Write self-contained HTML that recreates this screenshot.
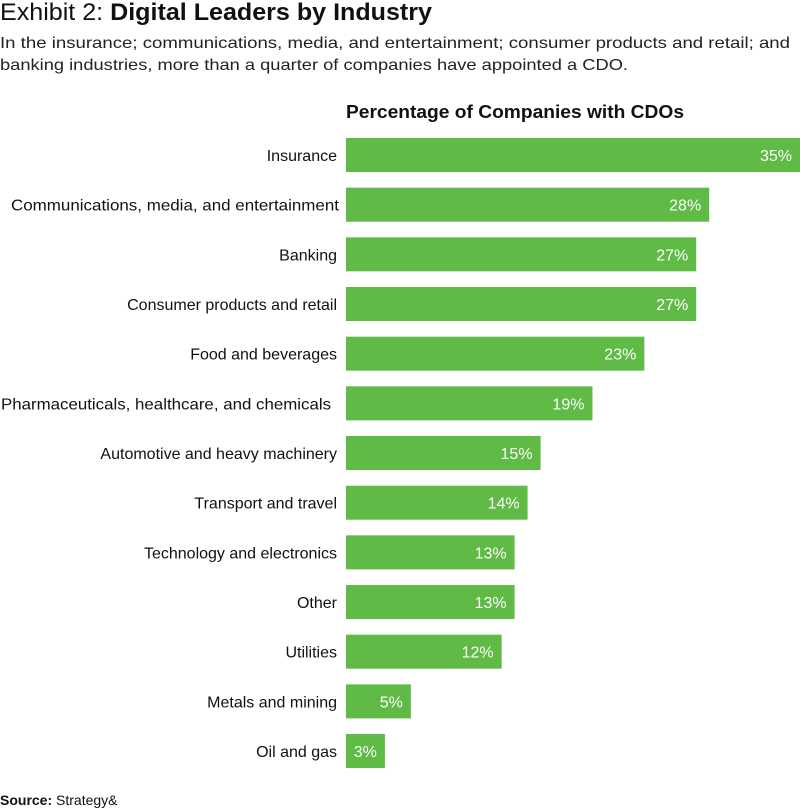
<!DOCTYPE html>
<html><head><meta charset="utf-8"><style>
html,body{margin:0;padding:0;background:#fff;}
svg{display:block;font-family:"Liberation Sans",sans-serif;}
</style></head><body>
<svg width="800" height="808" viewBox="0 0 800 808">
<text x="0" y="20" font-size="24" fill="#111" textLength="432" lengthAdjust="spacingAndGlyphs">Exhibit 2: <tspan font-weight="bold">Digital Leaders by Industry</tspan></text>
<text x="0" y="48" font-size="16" fill="#222" textLength="790" lengthAdjust="spacingAndGlyphs">In the insurance; communications, media, and entertainment; consumer products and retail; and</text>
<text x="0" y="70" font-size="16" fill="#222" textLength="628" lengthAdjust="spacingAndGlyphs">banking industries, more than a quarter of companies have appointed a CDO.</text>
<text x="346" y="118" font-size="18" font-weight="bold" fill="#111" textLength="338" lengthAdjust="spacingAndGlyphs">Percentage of Companies with CDOs</text>
<g id="bars"></g>
<text x="0" y="805" font-size="14" fill="#111"><tspan font-weight="bold">Source:</tspan> Strategy&amp;</text>
</svg>
<script>
const categories = ["Insurance","Communications, media, and entertainment","Banking","Consumer products and retail","Food and beverages","Pharmaceuticals, healthcare, and chemicals","Automotive and heavy machinery","Transport and travel","Technology and electronics","Other","Utilities","Metals and mining","Oil and gas"];
const values = [35,28,27,27,23,19,15,14,13,13,12,5,3];
const valueLabels = ["35%","28%","27%","27%","23%","19%","15%","14%","13%","13%","12%","5%","3%"];
const NS="http://www.w3.org/2000/svg";
const x0=346, pxPer=454/35;
const xScale=v=>v*pxPer;
const yScale=i=>155+i*49.67;
const g=document.getElementById('bars');
categories.forEach((c,i)=>{
  const cy=yScale(i), w=xScale(values[i]);
  const r=document.createElementNS(NS,'rect');
  r.setAttribute('x',x0);r.setAttribute('y',cy-17);r.setAttribute('width',w);r.setAttribute('height',34);r.setAttribute('fill','#5fba46');
  
  
  g.appendChild(r);
  const t=document.createElementNS(NS,'text');
  t.setAttribute('x',337);t.setAttribute('y',cy+6);t.setAttribute('text-anchor','end');t.setAttribute('font-size','16');t.setAttribute('fill','#111');
  if(c.indexOf('Pharma')===0){t.setAttribute('textLength','330');t.setAttribute('lengthAdjust','spacingAndGlyphs');t.setAttribute('x',331);}
  else if(c.indexOf('Communications')===0){t.setAttribute('textLength','328');t.setAttribute('lengthAdjust','spacingAndGlyphs');t.setAttribute('x',339);}
  t.textContent=c;
  
  
  g.appendChild(t);
  const v=document.createElementNS(NS,'text');
  v.setAttribute('x',x0+w-8);v.setAttribute('y',cy+6);v.setAttribute('text-anchor','end');v.setAttribute('font-size','16');v.setAttribute('fill','#fff');
  v.textContent=valueLabels[i];
  
  
  g.appendChild(v);
});
</script>
</body></html>
